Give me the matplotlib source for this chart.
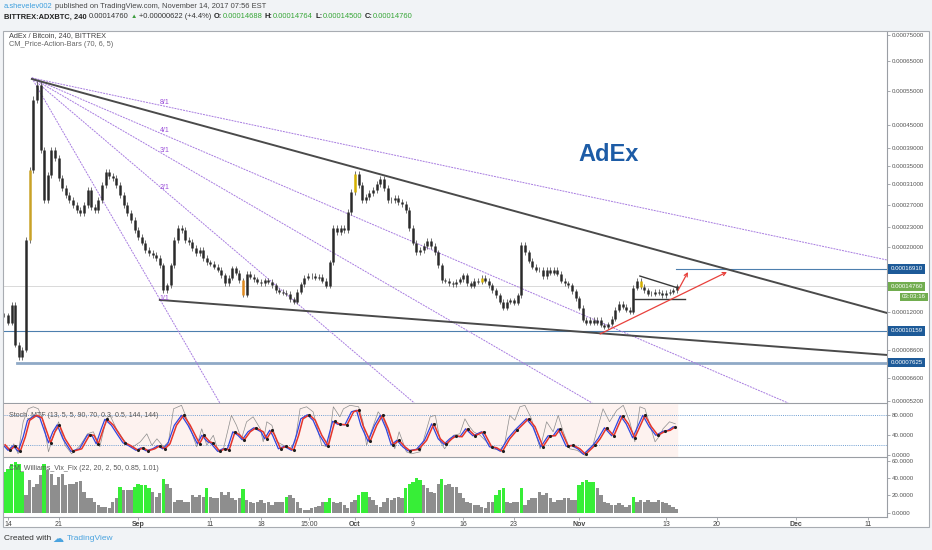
import datetime as dt
import numpy as np
import matplotlib
matplotlib.use("Agg")
import matplotlib.pyplot as plt
import matplotlib.dates as mdates
from matplotlib.patches import Rectangle
from matplotlib.ticker import NullLocator
from matplotlib.transforms import blended_transform_factory

W, H = 932, 550
plt.rcParams['font.family'] = ['Liberation Sans', 'DejaVu Sans']

# ---- data --------------------------------------------------------------
# 12h closes (units of 1e-5 BTC), first bar Aug 13 12:00
close_e5 = [11.65, 10.9, 12.7, 9.0, 8.0, 8.6, 21.0, 34.0, 52.3, 57.0,
            38.6, 27.9, 32.9, 38.6, 36.7, 32.3, 30.2, 28.8, 27.9, 26.9,
            26.0, 25.5, 26.9, 29.8, 26.6, 26.0, 27.9, 30.8, 33.6, 32.7,
            32.3, 30.8, 28.8, 26.9, 25.5, 24.3, 22.6, 21.5, 20.6, 19.5,
            19.1, 18.8, 18.4, 17.4, 14.3, 14.9, 17.4, 21.0, 22.9, 22.6,
            21.0, 20.7, 19.8, 19.1, 19.5, 18.4, 17.8, 17.6, 17.2, 16.8,
            16.1, 15.1, 15.8, 17.0, 16.4, 15.5, 13.8, 16.3, 15.9, 15.6,
            15.3, 15.1, 15.5, 15.3, 14.9, 14.3, 14.1, 14.0, 13.9, 13.3,
            13.0, 14.1, 15.0, 15.8, 16.0, 16.0, 15.8, 15.9, 15.4, 14.8,
            17.8, 22.9, 22.3, 22.9, 22.6, 25.7, 29.4, 33.1, 30.8, 27.9,
            28.4, 29.2, 29.8, 31.0, 32.1, 30.2, 27.9, 27.9, 28.2, 27.5,
            27.1, 26.0, 22.9, 20.6, 19.2, 19.5, 20.1, 20.9, 20.1, 19.2,
            17.4, 15.5, 15.4, 15.1, 15.0, 15.3, 15.6, 16.1, 15.1, 14.8,
            15.4, 15.3, 15.8, 15.4, 14.9, 14.3, 13.7, 13.0, 12.4, 13.0,
            13.2, 12.9, 13.7, 20.3, 19.2, 18.0, 17.2, 16.8, 16.8, 16.0,
            16.8, 16.4, 16.8, 16.3, 15.4, 15.1, 14.9, 14.2, 13.4, 12.4,
            11.2, 10.9, 11.2, 10.9, 11.2, 10.7, 10.5, 10.8, 11.3, 12.2,
            12.8, 12.5, 12.2, 12.0, 14.6, 15.4, 14.7, 14.3, 13.9, 13.9,
            14.1, 14.0, 13.7, 14.0, 14.1, 14.3, 14.76]
highlight = {7: '#c9a227', 66: '#e08a1e', 97: '#d4b000', 107: '#c9a227',
             132: '#d4b000', 176: '#d4b000'}

vix = [46.9, 50.7, 56.4, 58.3, 56.4, 46.9, 20.6, 37.5, 29.9, 33.7,
       43.2, 56.4, 48.8, 45.0, 31.8, 41.3, 45.0, 31.8, 33.7, 33.7,
       35.6, 36.3, 24.4, 16.8, 16.8, 13.1, 9.3, 7.4, 7.4, 5.5,
       13.1, 16.8, 29.9, 26.3, 26.3, 26.3, 29.9, 33.7, 31.8, 31.8,
       28.2, 24.4, 18.7, 22.5, 39.4, 33.7, 28.2, 13.1, 14.9, 14.9,
       13.1, 13.1, 20.6, 18.7, 20.6, 18.7, 28.2, 18.7, 16.8, 16.8,
       24.4, 20.6, 24.4, 16.8, 14.9, 16.8, 27.4, 14.9, 13.1, 11.2,
       13.1, 14.9, 11.2, 13.1, 9.3, 13.1, 13.1, 13.1, 18.7, 20.6,
       16.8, 13.1, 5.5, 3.6, 3.6, 5.5, 7.4, 8.5, 13.1, 13.1,
       16.8, 13.1, 11.2, 13.1, 9.3, 5.5, 13.1, 14.9, 20.6, 23.6,
       23.6, 18.7, 14.9, 9.3, 7.4, 13.1, 16.8, 14.9, 16.8, 18.7,
       16.8, 28.2, 33.7, 35.6, 40.2, 37.5, 31.8, 28.2, 24.4, 22.5,
       33.7, 39.4, 31.8, 33.7, 29.9, 29.9, 22.5, 16.8, 13.1, 11.2,
       9.3, 9.3, 7.4, 5.5, 13.1, 13.1, 20.6, 26.3, 28.8, 13.1,
       11.2, 13.1, 13.1, 28.2, 9.3, 14.9, 16.8, 16.8, 24.4, 20.6,
       22.5, 16.8, 13.1, 14.9, 14.9, 16.8, 16.8, 14.9, 14.9, 31.8,
       35.6, 37.5, 35.6, 35.6, 28.2, 20.6, 13.1, 11.2, 9.3, 9.3,
       11.2, 9.3, 7.4, 9.3, 18.7, 13.1, 14.9, 13.1, 14.9, 13.1,
       13.1, 14.9, 13.1, 11.2, 9.3, 6.3, 4.8]
vix_green = [0, 1, 2, 3, 4, 5, 11, 32, 36, 37, 38, 39, 40, 44, 56, 66, 78,
             89, 90, 98, 99, 100, 111, 112, 113, 114, 115, 121, 136, 137,
             138, 143, 159, 160, 161, 162, 163, 174]

# stochastic (days after Aug 14)
stoch_day = [-0.4, 0.3, 1.0, 1.7, 2.4, 3.0, 4.0, 4.7, 5.9, 6.5,
             7.1, 7.9, 9.0, 10.2, 11.3, 11.9, 12.5, 13.2, 13.7, 14.6,
             15.5, 16.2, 16.9, 18.0, 18.7, 19.4, 20.3, 21.0, 21.7, 22.4,
             23.3, 24.3, 25.2, 26.5, 27.1, 27.9, 28.3, 29.3, 30.0, 30.6,
             31.4, 32.1, 32.7, 33.5, 34.3, 35.3, 35.8, 36.5, 36.9, 37.7,
             38.5, 39.5, 40.2, 40.8, 41.7, 42.5, 43.4, 44.3, 45.2, 45.9,
             46.9, 47.8, 48.5, 49.1, 50.1, 51.0, 51.8, 52.6, 53.3, 54.1,
             54.9, 55.6, 56.8, 57.9, 58.9, 59.8, 60.6, 61.4, 62.0, 62.8,
             63.6, 64.6, 65.8, 66.9, 67.6, 68.4, 69.4, 70.4, 72.0, 72.9,
             74.0, 75.0, 75.7, 76.4, 77.5, 78.2, 79.1, 79.9, 81.2, 81.9,
             82.8, 83.8, 85.0, 85.8, 86.7, 88.1, 89.0, 89.9, 90.9, 91.6,
             92.3]
stoch_k = [21, 10, 19, 8, 37, 70, 80, 75, 25, 47,
           61, 33, 8, 13, 41, 40, 23, 53, 72, 60,
           40, 25, 20, 10, 15, 9, 13, 19, 13, 23,
           60, 80, 60, 23, 40, 27, 25, 8, 13, 11,
           47, 40, 31, 47, 55, 47, 33, 50, 40, 13,
           18, 10, 40, 73, 81, 70, 40, 19, 68, 62,
           61, 87, 90, 60, 28, 60, 80, 53, 21, 30,
           17, 9, 12, 30, 63, 33, 22, 33, 39, 37,
           53, 39, 47, 17, 15, 8, 33, 50, 73, 57,
           17, 39, 39, 53, 18, 20, 13, 2, 20, 33,
           55, 39, 79, 63, 35, 80, 57, 40, 48, 50,
           57]
stoch_dots = [1, 2, 3, 8, 10, 12, 14, 16, 18, 21, 23, 24, 25, 27, 28, 31, 33,
              34, 36, 37, 38, 39, 40, 42, 44, 46, 47, 49, 50, 51, 54, 57, 58,
              59, 60, 62, 64, 66, 68, 69, 71, 72, 74, 76, 78, 80, 81, 82, 83,
              85, 87, 88, 90, 91, 93, 94, 95, 97, 98, 100, 101, 102, 104, 105,
              107, 108, 110]
raw_day = [-0.4, 0.3, 0.8, 1.4, 2.1, 2.8, 3.5, 4.2, 4.9, 5.6,
           6.3, 7.0, 7.9, 8.8, 10.0, 11.0, 11.8, 12.7, 13.6, 14.1,
           15.0, 15.9, 16.6, 17.3, 18.3, 19.2, 19.9, 20.6, 21.5, 22.2,
           22.9, 24.0, 24.9, 26.1, 26.8, 27.5, 28.4, 29.1, 29.8, 30.9,
           31.6, 32.3, 33.0, 33.9, 34.9, 35.3, 35.8, 36.5, 37.2, 38.1,
           39.0, 39.7, 40.4, 41.3, 42.2, 43.4, 44.3, 45.0, 45.9, 46.4,
           47.3, 48.5, 49.1, 49.6, 50.3, 51.2, 51.9, 52.8, 53.5, 54.1,
           55.1, 55.8, 57.0, 58.4, 59.1, 59.8, 60.4, 61.6, 62.5, 63.2,
           63.7, 64.4, 65.3, 66.2, 67.1, 68.0, 68.7, 69.4, 70.1, 70.8,
           71.5, 72.4, 73.6, 74.5, 75.4, 76.1, 76.8, 77.7, 78.7, 79.8,
           80.9, 82.3, 83.2, 84.2, 85.1, 86.0, 86.7, 87.4, 88.1, 88.8,
           89.5, 90.2, 90.6, 91.5, 92.3]
raw_v = [20, 7, 23, 3, 67, 93, 97, 93, 67, 7,
         40, 67, 20, 3, 20, 43, 47, 17, 73, 80,
         53, 33, 20, 17, 27, 43, 20, 33, 17, 27,
         93, 100, 67, 17, 53, 20, 40, 7, 13, 80,
         60, 33, 67, 77, 53, 27, 67, 60, 27, 20,
         13, 27, 93, 97, 87, 20, 17, 97, 77, 93,
         100, 97, 67, 20, 50, 87, 73, 40, 13, 47,
         7, 3, 7, 77, 80, 27, 13, 40, 43, 73,
         60, 47, 40, 27, 13, 10, 23, 80, 70, 97,
         100, 73, 13, 67, 47, 80, 47, 13, 10, 0,
         20, 93, 67, 90, 100, 67, 27, 97, 93, 60,
         27, 40, 53, 67, 63]

# drawings: (day, price)
upper_trend = [(3.3, 5.895e-4), (121.6, 1.185e-4)]
lower_trend = [(21.0, 1.321e-4), (121.6, 0.818e-4)]
fan_origin = (3.3, 5.93e-4)
fan_ends = {'8/1': (121.6, 1.810e-4), '4/1': (107.9, 0.5107e-4),
            '3/1': (80.8, 0.5107e-4), '2/1': (56.2, 0.5107e-4),
            '1/1': (29.3, 0.5107e-4)}
fan_label_y = {'8/1': 5.14e-4, '4/1': 4.345e-4, '3/1': 3.86e-4,
               '2/1': 3.04e-4, '1/1': 1.342e-4}
arrow_long = [(81.9, 0.989e-4), (99.45, 1.651e-4)]
arrow_short = [(92.7, 1.432e-4), (94.05, 1.651e-4)]
tri_top = [(87.4, 1.600e-4), (92.7, 1.455e-4)]
tri_base = [(86.6, 1.331e-4), (93.6, 1.331e-4)]

price_ticks = [0.00075, 0.00065, 0.00055, 0.00045, 0.00039, 0.00035,
               0.00031, 0.00027, 0.00023, 0.00020, 0.00012, 0.000086,
               0.000066, 0.000052]
time_ticks = [(dt.datetime(2017, 8, 14), '14'), (dt.datetime(2017, 8, 21), '21'),
              (dt.datetime(2017, 9, 1), 'Sep'), (dt.datetime(2017, 9, 11), '11'),
              (dt.datetime(2017, 9, 18), '18'), (dt.datetime(2017, 9, 24, 15), '15:00'),
              (dt.datetime(2017, 10, 1), 'Oct'), (dt.datetime(2017, 10, 9), '9'),
              (dt.datetime(2017, 10, 16), '16'), (dt.datetime(2017, 10, 23), '23'),
              (dt.datetime(2017, 11, 1), 'Nov'), (dt.datetime(2017, 11, 13), '13'),
              (dt.datetime(2017, 11, 20), '20'), (dt.datetime(2017, 12, 1), 'Dec'),
              (dt.datetime(2017, 12, 11), '11')]

# ---- figure ---------------------------------------------------------------
T0 = mdates.date2num(dt.datetime(2017, 8, 14))
XLIM = (T0 - 0.553, T0 + 121.58)


def frect(l, t, r, b):
    return [l / W, 1 - b / H, (r - l) / W, (b - t) / H]


def ftext(x, y, s, **kw):
    kw.setdefault('va', 'center')
    return fig.text(x / W, 1 - y / H, s, **kw)


def text_row(x, y, pieces, gap=2.5):
    # place text pieces one after another, measuring each
    rend = fig.canvas.get_renderer()
    for s, kw in pieces:
        t = ftext(x, y, s, **kw)
        x = t.get_window_extent(rend).x1 + gap


fig = plt.figure(figsize=(W / 100, H / 100), dpi=100, facecolor='#f1f3f6')
fig.patches.append(Rectangle((3 / W, 1 - 527 / H), 926 / W, 496 / H,
                             transform=fig.transFigure, fc='white',
                             ec='#a8acb2', lw=0.8, zorder=-5))

GRAY = '#9a9ea4'
LBL = '#555555'


def style(a):
    a.set_facecolor('none')
    a.set_xlim(*XLIM)
    for s in ('top', 'left'):
        a.spines[s].set_visible(False)
    a.spines['right'].set_color(GRAY)
    a.spines['bottom'].set_color(GRAY)
    a.spines['right'].set_linewidth(0.8)
    a.spines['bottom'].set_linewidth(0.8)
    a.yaxis.tick_right()
    a.tick_params(axis='y', labelsize=4.4, colors=GRAY, labelcolor=LBL,
                  length=2, width=0.6, pad=1.5)
    a.yaxis.set_minor_locator(NullLocator())


# main price pane
ax = fig.add_axes(frect(4, 32, 887, 403))
style(ax)
ax.set_yscale('function', functions=(lambda p: np.power(np.clip(p, 1e-12, None), 0.25),
                                     lambda q: np.power(q, 4)))
ax.set_ylim(5.107e-5, 7.622e-4)
ax.set_xticks([])
ax.set_yticks(price_ticks)
ax.set_yticklabels(['%.8f' % v for v in price_ticks])
ax.yaxis.set_minor_locator(NullLocator())

close = np.array(close_e5) * 1e-5
opens = np.concatenate([[close[0]], close[:-1]])
bar_x = T0 - 0.5 + 0.5 * np.arange(len(close))
cols = [highlight.get(i, '#2a2a2a') for i in range(len(close))]
lo = np.minimum(opens, close)
hi = np.maximum(opens, close)
ax.vlines(bar_x, lo * 0.98, hi * 1.02, colors='#5a5a5a', lw=0.6, zorder=3)
ax.vlines(bar_x, lo, hi, colors=cols, lw=1.8, zorder=4)

ax.axhline(close[-1], color='#d9d9d9', lw=0.7, zorder=1)
ax.axhline(1.0159e-4, color='#4d7fae', lw=0.8, zorder=2)
ax.plot([T0 + 1.2, XLIM[1]], [0.7625e-4, 0.7625e-4], color='#8fa9c6', lw=2.0, zorder=2)
ax.plot([T0 + 92.4, XLIM[1]], [1.691e-4, 1.691e-4], color='#4d7fae', lw=0.8, zorder=2)

for name, (d, p) in fan_ends.items():
    ax.plot([T0 + fan_origin[0], T0 + d], [fan_origin[1], p], color='#a77be0',
            lw=0.7, ls=(0, (2, 1)), zorder=2)
    ax.text(T0 + 21.0, fan_label_y[name], name, color='#9b4fd9', fontsize=5,
            va='center', ha='left', zorder=6)

for seg in (upper_trend, lower_trend):
    ax.plot([T0 + seg[0][0], T0 + seg[1][0]], [seg[0][1], seg[1][1]],
            color='#4a4a4a', lw=1.4, zorder=5)
for seg in (tri_top, tri_base):
    ax.plot([T0 + seg[0][0], T0 + seg[1][0]], [seg[0][1], seg[1][1]],
            color='#3a3a3a', lw=1.0, zorder=5)
for seg in (arrow_long, arrow_short):
    ax.annotate('', xy=(T0 + seg[1][0], seg[1][1]), xytext=(T0 + seg[0][0], seg[0][1]),
                arrowprops=dict(arrowstyle='->', color='#e8413c', lw=0.9,
                                shrinkA=0, shrinkB=0, mutation_scale=6), zorder=6)

tr = blended_transform_factory(ax.transAxes, ax.transData)
for val, txt, fc in [(1.691e-4, '0.00016910', '#1d5a98'), (1.476e-4, '0.00014760', '#71ad4f'),
                     (1.0159e-4, '0.00010159', '#1d5a98'), (0.7625e-4, '0.00007625', '#1d5a98')]:
    ax.text(1.004, val, txt, transform=tr, fontsize=4.4, color='white', va='center',
            ha='left', bbox=dict(boxstyle='square,pad=0.35', fc=fc, ec='none'),
            zorder=10, clip_on=False)
ftext(926, 297, '03:03:16', fontsize=4.4, color='white', ha='right',
      bbox=dict(boxstyle='square,pad=0.3', fc='#71ad4f', ec='none'))

# stochastic pane
axs = fig.add_axes(frect(4, 404, 887, 457))
style(axs)
axs.set_ylim(-3.4, 102.6)
axs.set_xticks([])
axs.set_yticks([80, 40, 0])
axs.set_yticklabels(['80.0000', '40.0000', '0.0000'])
axs.axvspan(T0 - 0.55, T0 + 92.6, color='#fdf2ef', zorder=0)
for lv in (80, 20):
    axs.axhline(lv, color='#6f9fd2', lw=0.7, ls=(0, (1, 1.2)), zorder=1)
sd = T0 + np.array(stoch_day)
axs.plot(T0 + np.array(raw_day), raw_v, color='#8c8c8c', lw=0.5, zorder=2)
axs.plot(sd - 0.3, stoch_k, color='#3146e0', lw=0.9, zorder=3)
axs.plot(sd, stoch_k, color='#e5352b', lw=1.1, zorder=4)
axs.scatter(sd[stoch_dots], np.array(stoch_k)[stoch_dots], s=5, color='#1e1e1e',
            zorder=5, lw=0)
axs.text(0.006, 0.78, 'Stoch_MTF (13, 5, 5, 90, 70, 0.3, 0.5, 144, 144)',
         transform=axs.transAxes, fontsize=5, color='#555555', va='center')

# williams vix fix pane
axv = fig.add_axes(frect(4, 458, 887, 517))
style(axv)
axv.set_ylim(-4.6, 62.9)
axv.set_yticks([60, 40, 20, 0])
axv.set_yticklabels(['60.0000', '40.0000', '20.0000', '0.0000'])
vcol = ['#37ee37' if i in vix_green else '#8e8e8e' for i in range(len(vix))]
axv.bar(bar_x, vix, width=0.46, color=vcol, lw=0, zorder=2)
axv.text(0.006, 0.82, 'CM_Williams_Vix_Fix (22, 20, 2, 50, 0.85, 1.01)',
         transform=axv.transAxes, fontsize=5, color='#555555', va='center')
axv.set_xticks([mdates.date2num(t) for t, _ in time_ticks])
axv.set_xticklabels([s for _, s in time_ticks])
axv.tick_params(axis='x', labelsize=5, colors=GRAY, labelcolor='#444444',
                length=2, width=0.6, pad=1.2)
for lbl in axv.get_xticklabels():
    if lbl.get_text() in ('Sep', 'Oct', 'Nov', 'Dec'):
        lbl.set_fontweight('bold')

# texts
FS = 5.4
text_row(4, 7, [('a.shevelev002', dict(fontsize=FS, color='#3c9ede')),
                ('published on TradingView.com, November 14, 2017 07:56 EST',
                 dict(fontsize=FS, color='#444444'))])
row2 = [('BITTREX:ADXBTC, 240', dict(fontsize=FS, color='#222222', fontweight='bold')),
        ('0.00014760', dict(fontsize=FS, color='#333333')),
        ('\u25b2', dict(fontsize=4.6, color='#3c9c3c')),
        ('+0.00000622 (+4.4%)', dict(fontsize=FS, color='#333333'))]
for lab, val in [('O:', '0.00014688'), ('H:', '0.00014764'),
                 ('L:', '0.00014500'), ('C:', '0.00014760')]:
    row2.append((lab, dict(fontsize=FS, color='#222222', fontweight='bold')))
    row2.append((val, dict(fontsize=FS, color='#35a535')))
rend = fig.canvas.get_renderer()
x = 4
for i, (s, kw) in enumerate(row2):
    t = ftext(x, 17, s, **kw)
    g = 0.6 if s.endswith(':') else 2.2
    x = t.get_window_extent(rend).x1 + g

ftext(9, 36, 'AdEx / Bitcoin, 240, BITTREX', fontsize=5.3, color='#444444')
ftext(9, 45, 'CM_Price-Action-Bars (70, 6, 5)', fontsize=5.3, color='#666666')
ftext(609, 155, 'AdEx', fontsize=17, color='#1d5ca6', fontweight='bold', ha='center')
ftext(4, 539, 'Created with', fontsize=6, color='#333333')
ftext(58, 539, '\u2601', fontsize=8, color='#4aa3df', ha='center')
ftext(67, 539, 'TradingView', fontsize=6, color='#4aa3df')

fig.savefig('out.png', dpi=100, facecolor=fig.get_facecolor())
